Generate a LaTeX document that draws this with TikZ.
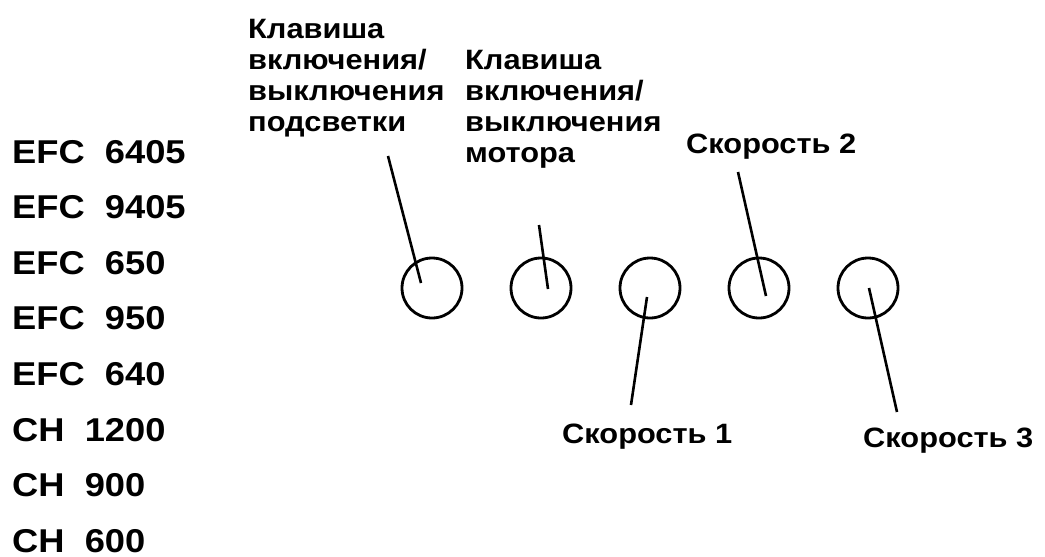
\documentclass[tikz,border=0pt]{standalone}
\usepackage{fontspec}
\newfontfamily\lab{Liberation Sans}[FakeStretch=1.1]
\begin{document}
\begin{tikzpicture}[x=1pt,y=-1pt,
  btn/.style={circle,draw,line width=2.8pt,minimum size=60pt,inner sep=0pt},
  lead/.style={line width=2.6pt},
  model/.style={anchor=base west,inner sep=0pt,font=\lab\bfseries\fontsize{33}{33}\selectfont},
  lbl/.style={anchor=base west,inner sep=0pt,align=left,font=\lab\bfseries\fontsize{28}{31}\selectfont}]
\useasboundingbox (0,0) rectangle (1045,557);
% model list
\foreach \t [count=\i] in {EFC\ \ 6405,EFC\ \ 9405,EFC\ \ 650,EFC\ \ 950,EFC\ \ 640,CH\ \ 1200,CH\ \ 900,CH\ \ 600}
  \node[model] (m\i) at (12,{163+55.6*(\i-1)}) {\t};
% buttons
\node[btn] (c1) at (432,288) {};
\node[btn] (c2) at (541,288) {};
\node[btn] (c3) at (650,288) {};
\node[btn] (c4) at (759,288) {};
\node[btn] (c5) at (868,288) {};
% labels (anchor = baseline of last line)
\node[lbl] (la) at (248,131) {Клавиша\\включения/\\выключения\\подсветки};
\node[lbl] (lb) at (465,162) {Клавиша\\включения/\\выключения\\мотора};
\node[lbl] (s2) at (686,153) {Скорость 2};
\node[lbl] (s1) at (562,443) {Скорость 1};
\node[lbl] (s3) at (863,447) {Скорость 3};
% leader end points
\coordinate (a1) at (388,156); \coordinate (b1) at (421,283);
\coordinate (a2) at (539,225); \coordinate (b2) at (548,289);
\coordinate (a3) at (631,405); \coordinate (b3) at (647,297);
\coordinate (a4) at (738,172); \coordinate (b4) at (766,296);
\coordinate (a5) at (897,412); \coordinate (b5) at (869,288);
\foreach \k in {1,...,5} \draw[lead] (a\k) -- (b\k);
\end{tikzpicture}
\end{document}
